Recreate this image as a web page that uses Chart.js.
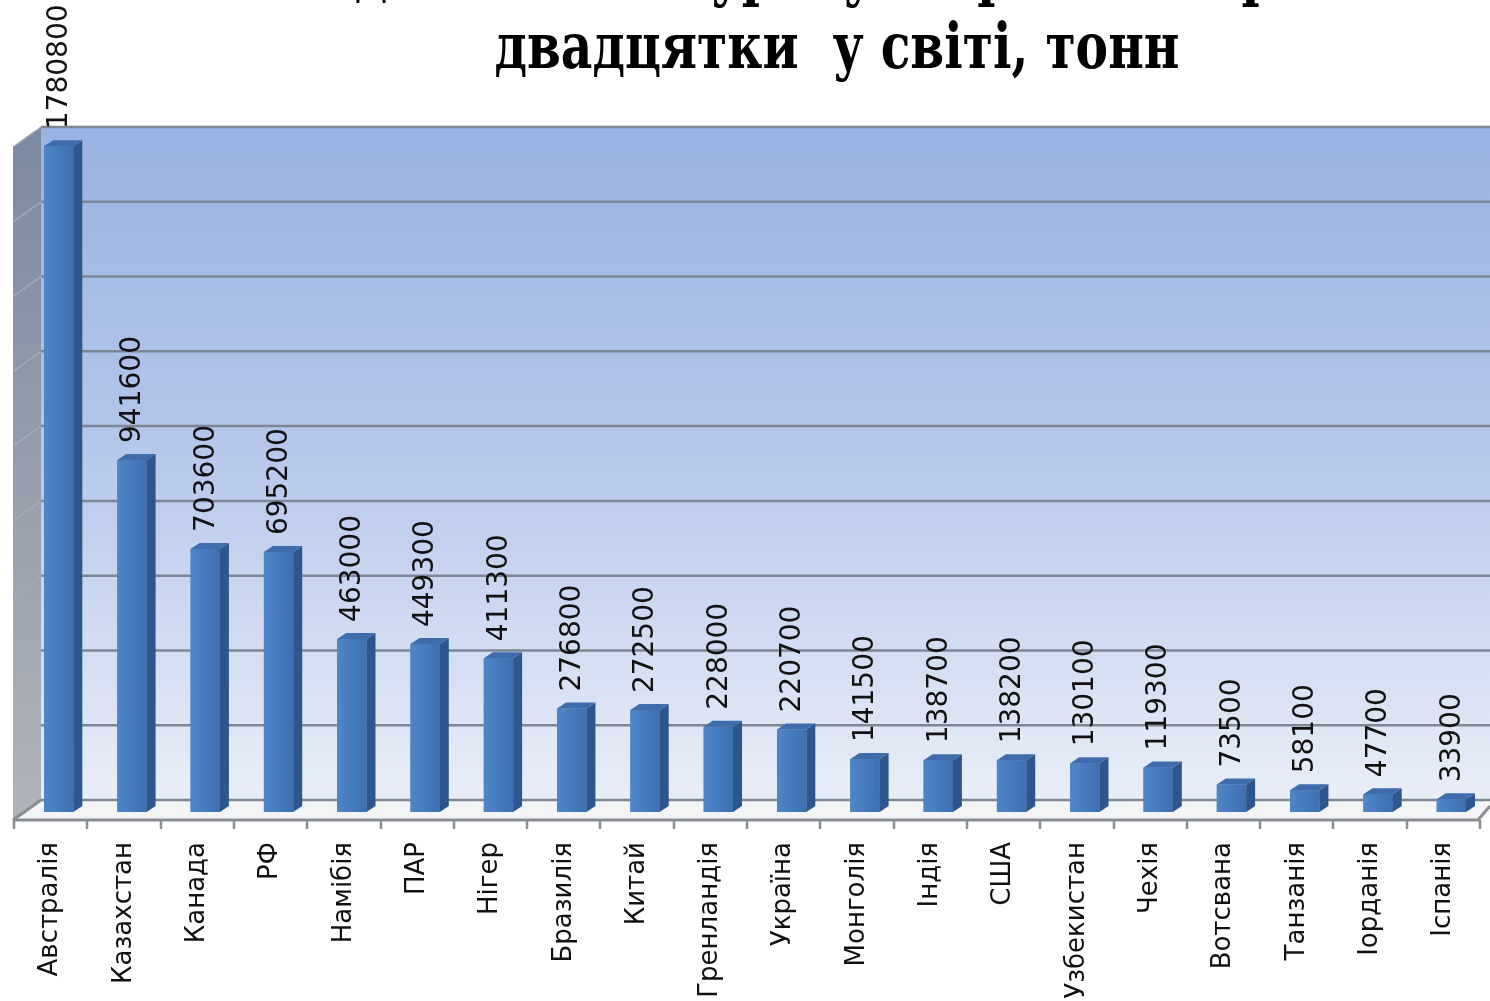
<!DOCTYPE html>
<html>
<head>
<meta charset="utf-8">
<script src="https://cdn.jsdelivr.net/npm/chart.js@4.4.1/dist/chart.umd.min.js"></script>
<style>
html, body { margin: 0; padding: 0; background: #fff; }
#wrap { width: 1490px; height: 1001px; }
</style>
</head>
<body>
<div id="wrap"><canvas id="chart" width="1490" height="1001"></canvas></div>
<script>
// data
const countries = ['Австралія', 'Казахстан', 'Канада', 'РФ', 'Намібія', 'ПАР', 'Нігер',
    'Бразилія', 'Китай', 'Гренландія', 'Україна', 'Монголія', 'Індія', 'США',
    'Узбекистан', 'Чехія', 'Вотсвана', 'Танзанія', 'Іорданія', 'Іспанія'];
const reserves = [1780800, 941600, 703600, 695200, 463000, 449300, 411300,
    276800, 272500, 228000, 220700, 141500, 138700, 138200,
    130100, 119300, 73500, 58100, 47700, 33900];
const titleLines = ['Відомі запаси урану в країнах першої', 'двадцятки  у світі, тонн'];
const axisMax = 1800000;
const gridStep = 200000;

// 3d look
const BAR_SHIFT = 8;     // bars sit a little right of the category centre
const BAR_DX = 9, BAR_DY = -6;
const WALL_DX = 28, WALL_DY = -12, FLOOR_DY = 8;

const scene3d = {
    id: 'scene3d',
    beforeDatasetsDraw(chart) {
        const {ctx, chartArea: area, scales: {x, y}} = chart;
        const left = area.left - 1;
        const back = left + WALL_DX;
        const wallTop = y.getPixelForValue(axisMax) + WALL_DY;
        const wallBottom = y.getPixelForValue(0) + WALL_DY;
        const floorFront = y.getPixelForValue(0) + FLOOR_DY;
        const right = chart.width;
        const floorEnd = area.right - 2;

        ctx.save();
        // back wall
        let g = ctx.createLinearGradient(0, wallTop, 0, wallBottom);
        g.addColorStop(0, '#9ab2e2');
        g.addColorStop(0.45, '#b3c5ea');
        g.addColorStop(1, '#e9eef8');
        ctx.fillStyle = g;
        ctx.fillRect(back, wallTop, right - back, wallBottom - wallTop);

        // left wall
        g = ctx.createLinearGradient(0, wallTop, 0, floorFront);
        g.addColorStop(0, '#7b89a0');
        g.addColorStop(1, '#b0b3b9');
        ctx.fillStyle = g;
        ctx.beginPath();
        ctx.moveTo(left, wallTop + (floorFront - wallBottom));
        ctx.lineTo(back, wallTop);
        ctx.lineTo(back, wallBottom);
        ctx.lineTo(left, floorFront);
        ctx.closePath();
        ctx.fill();

        // floor
        ctx.fillStyle = '#f3f4f6';
        ctx.beginPath();
        ctx.moveTo(left, floorFront);
        ctx.lineTo(back, wallBottom);
        ctx.lineTo(right, wallBottom);
        ctx.lineTo(right, wallBottom + 6);
        ctx.lineTo(floorEnd, floorFront);
        ctx.closePath();
        ctx.fill();

        // grid lines on back and left walls
        for (let v = 0; v <= axisMax; v += gridStep) {
            const yy = y.getPixelForValue(v) + WALL_DY;
            ctx.strokeStyle = '#7d8695';
            ctx.lineWidth = 2.5;
            ctx.beginPath();
            ctx.moveTo(back, yy);
            ctx.lineTo(right, yy);
            ctx.stroke();
            ctx.strokeStyle = '#a3abb8';
            ctx.lineWidth = 1.5;
            ctx.beginPath();
            ctx.moveTo(left, yy + (floorFront - wallBottom));
            ctx.lineTo(back, yy);
            ctx.stroke();
        }

        // floor edges and category ticks
        ctx.strokeStyle = '#8a8d92';
        ctx.lineWidth = 3;
        ctx.beginPath();
        ctx.moveTo(left, floorFront);
        ctx.lineTo(floorEnd, floorFront);
        ctx.lineTo(right, wallBottom + 6);
        ctx.stroke();
        ctx.beginPath();
        ctx.moveTo(left, floorFront);
        ctx.lineTo(back, wallBottom);
        ctx.stroke();
        const half = (x.getPixelForValue(1) - x.getPixelForValue(0)) / 2;
        ctx.lineWidth = 2.5;
        ctx.beginPath();
        for (let i = 0; i <= countries.length; i++) {
            const xx = Math.round(x.getPixelForValue(i) - half);
            ctx.moveTo(xx, floorFront);
            ctx.lineTo(xx, floorFront + 9);
        }
        ctx.stroke();
        ctx.restore();

        ctx.save();
        ctx.translate(BAR_SHIFT, 0);
    },
    afterDatasetsDraw(chart) {
        const {ctx} = chart;
        const bars = chart.getDatasetMeta(0).data;
        bars.forEach((bar, i) => {
            const {x, y, base, width} = bar.getProps(['x', 'y', 'base', 'width'], true);
            const l = x - width / 2, r = x + width / 2;
            // front shading
            const g = ctx.createLinearGradient(l, 0, r, 0);
            g.addColorStop(0, '#4f86c8');
            g.addColorStop(1, '#3d6fb1');
            ctx.fillStyle = g;
            ctx.fillRect(l, y, width, base - y);
            // side
            ctx.fillStyle = '#2d578c';
            ctx.beginPath();
            ctx.moveTo(r, y);
            ctx.lineTo(r + BAR_DX, y + BAR_DY);
            ctx.lineTo(r + BAR_DX, base + BAR_DY);
            ctx.lineTo(r, base);
            ctx.closePath();
            ctx.fill();
            // top
            ctx.fillStyle = '#3f6dab';
            ctx.beginPath();
            ctx.moveTo(l, y);
            ctx.lineTo(l + BAR_DX, y + BAR_DY);
            ctx.lineTo(r + BAR_DX, y + BAR_DY);
            ctx.lineTo(r, y);
            ctx.closePath();
            ctx.fill();
            // value label
            ctx.save();
            ctx.translate(x, y - 17);
            ctx.rotate(-Math.PI / 2);
            ctx.font = '28px "DejaVu Sans"';
            ctx.fillStyle = '#111';
            ctx.textAlign = 'left';
            ctx.textBaseline = 'middle';
            ctx.fillText(String(reserves[i]), 0, 1);
            ctx.restore();
        });
        ctx.restore();
    },
    afterDraw(chart) {
        const {ctx} = chart;
        ctx.save();
        ctx.fillStyle = '#000';
        ctx.font = 'bold 64px "DejaVu Serif"';
        ctx.textAlign = 'center';
        ctx.textBaseline = 'alphabetic';
        const sx = 685 / ctx.measureText(titleLines[1]).width;
        const cx = 837;
        [[titleLines[0], -6], [titleLines[1], 68]].forEach(([t, by]) => {
            ctx.save();
            ctx.translate(cx, by);
            ctx.scale(sx, 1);
            ctx.fillText(t, 0, 0);
            ctx.restore();
        });
        ctx.restore();
    }
};

new Chart(document.getElementById('chart'), {
    type: 'bar',
    data: {
        labels: countries,
        datasets: [{
            data: reserves,
            backgroundColor: '#4a7ebf',
            borderWidth: 0,
            barPercentage: 0.4,
            categoryPercentage: 1
        }]
    },
    options: {
        responsive: false,
        animation: false,
        events: [],
        layout: {padding: {top: 139, left: 14, right: 10, bottom: 0}},
        plugins: {legend: {display: false}, tooltip: {enabled: false}, title: {display: false}},
        scales: {
            x: {
                grid: {display: false, drawTicks: false},
                border: {display: false},
                ticks: {
                    autoSkip: false,
                    minRotation: 90,
                    maxRotation: 90,
                    padding: 30,
                    color: '#111',
                    font: {family: '"DejaVu Sans"', size: 26}
                },
                afterFit(scale) {
                    scale.height = 189;
                    scale.paddingLeft = 0;
                    scale.paddingRight = 0;
                }
            },
            y: {
                display: false,
                min: 0,
                max: axisMax
            }
        }
    },
    plugins: [scene3d]
});
</script>
</body>
</html>
